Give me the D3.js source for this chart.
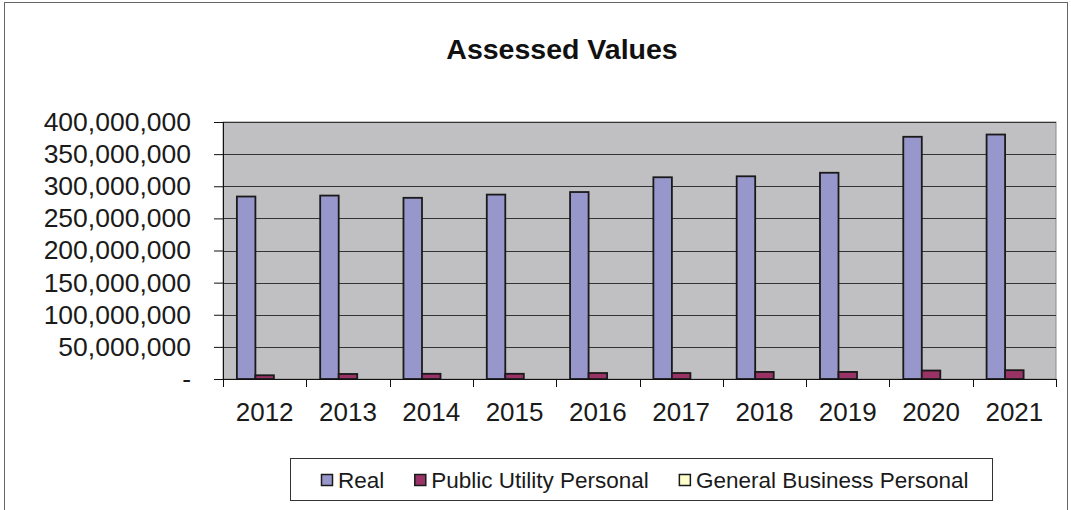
<!DOCTYPE html>
<html>
<head>
<meta charset="utf-8">
<script src="https://cdn.jsdelivr.net/npm/d3@7"></script>
<style>
  body { margin: 0; background: #fff; }
  svg { display: block; font-family: "Liberation Sans", Arial, sans-serif; }
</style>
</head>
<body>
<svg id="chart"></svg>
<script>
// values
const years = ["2012","2013","2014","2015","2016","2017","2018","2019","2020","2021"];
const seriesNames = ["Real", "Public Utility Personal", "General Business Personal"];
const realValues = [284000000, 285500000, 282000000, 287000000, 291000000, 314000000, 315500000, 321000000, 377000000, 380500000];
const publicUtilityValues = [5800000, 7800000, 8100000, 8100000, 9300000, 9300000, 11000000, 11000000, 13200000, 13700000];
const generalBusinessValues = [0, 0, 0, 0, 0, 0, 0, 0, 0, 0];
const yTicks = [0, 50000000, 100000000, 150000000, 200000000, 250000000, 300000000, 350000000, 400000000];

const seriesColors = ["#9797cb", "#993366", "#ffffcc"];

const W = 1071, H = 510;
const plot = { left: 223, right: 1056, top: 122, bottom: 379 };

const svg = d3.select("#chart").attr("width", W).attr("height", H);

// outer chart frame
svg.append("rect")
  .attr("x", 4.5).attr("y", 2.5)
  .attr("width", 1063).attr("height", 530)
  .attr("fill", "#fff")
  .attr("stroke", "#666")
  .attr("stroke-width", 1);

svg.append("text")
  .attr("x", 562).attr("y", 59)
  .attr("text-anchor", "middle")
  .style("font-size", "28.5px")
  .style("font-weight", "bold")
  .attr("fill", "#111")
  .text("Assessed Values");

const x = d3.scaleBand().domain(years).range([plot.left, plot.right]).padding(0);
const xInner = d3.scaleBand().domain(seriesNames).range([0, x.bandwidth()])
  .paddingInner(0).paddingOuter(0.75);
const y = d3.scaleLinear().domain([0, 400000000]).range([plot.bottom, plot.top]);

// plot area
svg.append("rect")
  .attr("x", plot.left).attr("y", plot.top)
  .attr("width", plot.right - plot.left).attr("height", plot.bottom - plot.top)
  .attr("fill", "#c0c0c2")
  .attr("stroke", "#8a8a8a")
  .attr("stroke-width", 1);

svg.append("g").selectAll("line")
  .data(yTicks.slice(1))
  .join("line")
  .attr("x1", plot.left).attr("x2", plot.right)
  .attr("y1", d => Math.round(y(d)) + 0.5).attr("y2", d => Math.round(y(d)) + 0.5)
  .attr("stroke", "#333")
  .attr("stroke-width", 1);

// bars
const table = years.map((yr, i) => ({
  year: yr,
  vals: [realValues[i], publicUtilityValues[i], generalBusinessValues[i]]
}));

const groups = svg.append("g").selectAll("g")
  .data(table)
  .join("g")
  .attr("transform", d => `translate(${x(d.year)},0)`);

groups.selectAll("rect")
  .data(d => d.vals.map((v, j) => ({ name: seriesNames[j], value: v, idx: j })))
  .join("rect")
  .filter(d => d.value > 0)
  .attr("x", d => xInner(d.name))
  .attr("y", d => y(d.value))
  .attr("width", xInner.bandwidth())
  .attr("height", d => y(0) - y(d.value))
  .attr("fill", d => seriesColors[d.idx])
  .attr("stroke", "#1a1a1a")
  .attr("stroke-width", 1.8);

// y axis
const yAxis = svg.append("g")
  .attr("transform", `translate(${plot.left},0)`)
  .call(d3.axisLeft(y).tickValues(yTicks).tickSize(9).tickPadding(23)
    .tickFormat(d => d === 0 ? "-" : d3.format(",")(d)));
yAxis.select(".domain").attr("stroke", "#111");
yAxis.selectAll(".tick line").attr("stroke", "#111");
yAxis.selectAll("text")
  .style("font-size", "26.5px")
  .style("font-family", "'Liberation Sans', Arial, sans-serif")
  .attr("fill", "#1a1a1a");

// x axis, ticks on category boundaries
const xAxis = svg.append("g")
  .attr("transform", `translate(0,${plot.bottom})`);
xAxis.append("line")
  .attr("x1", plot.left).attr("x2", plot.right)
  .attr("y1", 0.5).attr("y2", 0.5)
  .attr("stroke", "#111");
xAxis.selectAll("line.tk")
  .data(years.concat(["end"]))
  .join("line")
  .attr("class", "tk")
  .attr("x1", (d, i) => Math.round(plot.left + i * x.bandwidth()) + 0.5)
  .attr("x2", (d, i) => Math.round(plot.left + i * x.bandwidth()) + 0.5)
  .attr("y1", 0).attr("y2", 8)
  .attr("stroke", "#111");
xAxis.selectAll("text")
  .data(years)
  .join("text")
  .attr("x", d => x(d) + x.bandwidth() / 2)
  .attr("y", 42)
  .attr("text-anchor", "middle")
  .style("font-size", "26px")
  .attr("fill", "#1a1a1a")
  .text(d => d);

// legend
svg.append("rect")
  .attr("x", 290.5).attr("y", 458.5)
  .attr("width", 702).attr("height", 42)
  .attr("fill", "#fff")
  .attr("stroke", "#333")
  .attr("stroke-width", 1);

let lx = 321;
seriesNames.forEach((name, i) => {
  svg.append("rect")
    .attr("x", lx + 0.5).attr("y", 474.5)
    .attr("width", 11).attr("height", 11)
    .attr("fill", seriesColors[i])
    .attr("stroke", "#1a1a1a")
    .attr("stroke-width", 1.5);
  const t = svg.append("text")
    .attr("x", lx + 17).attr("y", 488)
    .style("font-size", "22.5px")
    .attr("fill", "#1a1a1a")
    .text(name);
  lx += 17 + t.node().getComputedTextLength() + 30;
});
</script>
</body>
</html>
